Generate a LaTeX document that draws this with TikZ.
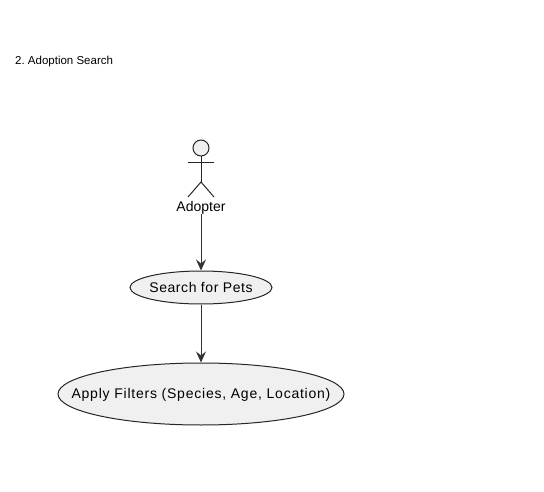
\documentclass[tikz,border=0pt]{standalone}
\usepackage{fontspec}
\setmainfont{Liberation Sans}
\usetikzlibrary{
	positioning,
	arrows.meta,
	shapes.geometric
}

\begin{document}
\frenchspacing
\begin{tikzpicture}[
	x = 1pt, y = -1pt,
	usecase/.style = {
		ellipse, draw=black!85, line width=1pt, fill=black!6,
		inner sep=0pt
	},
	casetext/.style = {font=\fontsize{14}{16}\selectfont, inner sep=0pt},
	limb/.style = {draw=black!85, line width=1pt},
	link/.style = {draw=black!80, line width=1pt, -{Stealth[length=11pt,width=10pt,inset=4pt]}}
]
	\useasboundingbox (0,0) rectangle (544,492);

	\node (title) [anchor=west, inner sep=0pt, font=\fontsize{11.5}{13}\selectfont] at (15,61.5) {2. Adoption Search};

	\node (head) [circle, limb, fill=black!6, minimum size=16pt, inner sep=0pt] at (201,148) {};
	\coordinate (hip) at (201,182);
	\coordinate (shoulder) at (201,163);
	\draw [limb] (head.south) -- (hip);
	\draw [limb] ([xshift=-13pt]shoulder) -- ([xshift=13pt]shoulder);
	\draw [limb] (188,197) -- (hip) -- (214,197);
	\node (adopter) [inner sep=0pt, font=\fontsize{14}{16}\selectfont] at (201,207.5) {Adopter};

	\node (search) [usecase, minimum width=142pt, minimum height=33pt] at (201,287.5) {};
	\node (searchtext) [casetext] at (search) {\addfontfeature{LetterSpace=4}Search for Pets};
	\node (filters) [usecase, minimum width=286pt, minimum height=62pt] at (201,394) {};
	\node (filterstext) [casetext, yshift=-1pt] at (filters) {\addfontfeature{LetterSpace=5.5}Apply Filters (Species, Age, Location)};

	\draw [link] (adopter.south) -- (search.north);
	\draw [link] (search.south) -- (filters.north);
\end{tikzpicture}
\end{document}
